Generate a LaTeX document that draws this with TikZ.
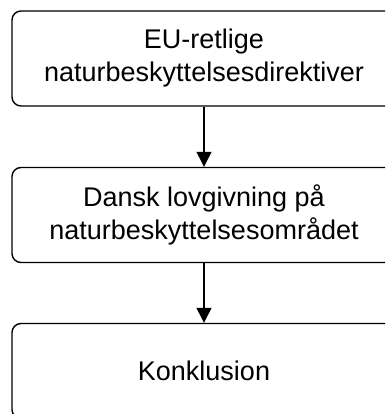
\documentclass[tikz,border=0pt]{standalone}
\usepackage{fontspec}
\setmainfont{Liberation Sans}
\usetikzlibrary{arrows.meta}
\begin{document}
\begin{tikzpicture}[x=1pt,y=-1pt,
  boxstyle/.style={draw=black, line width=1.4pt, rounded corners=9pt, fill=white,
    minimum width=384pt, minimum height=95pt, inner sep=0pt, align=center,
    font=\fontsize{27}{33}\selectfont},
  arrowstyle/.style={draw=black, line width=1.3pt, -{Triangle[length=15pt,width=15pt]}}]
\useasboundingbox (0,0) rectangle (385,414);
\clip (0,0) rectangle (385,414);
\node[boxstyle] (b1) at (204,58.5) {EU-retlige\\naturbeskyttelsesdirektiver};
\node[boxstyle] (b2) at (204,215) {Dansk lovgivning på\\naturbeskyttelsesområdet};
\node[boxstyle] (b3) at (204,371) {Konklusion};
\draw[arrowstyle] (b1) -- (b2);
\draw[arrowstyle] (b2) -- (b3);
\end{tikzpicture}
\end{document}
